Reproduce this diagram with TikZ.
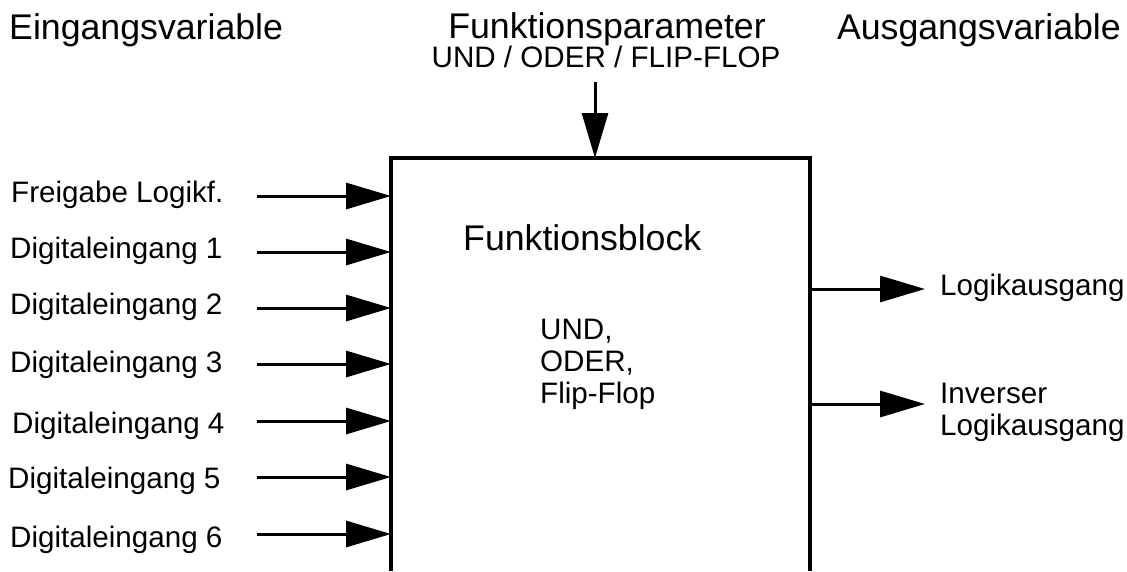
\documentclass[tikz,border=0pt]{standalone}
\usepackage{fontspec}
\setmainfont{Liberation Sans}
\usetikzlibrary{arrows.meta}

\tikzset{
  pfeil/.style={line width=3pt, -{Triangle[length=45pt,width=26pt]}},
  rahmen/.style={line width=4pt},
  gross/.style={font=\fontsize{35.7}{40}\selectfont, inner sep=0pt},
  klein/.style={font=\fontsize{29.6}{32}\selectfont, inner sep=0pt},
}

\begin{document}
\begin{tikzpicture}[x=1pt, y=-1pt]
	%%%%% START %%%%%
	\useasboundingbox[fill=white] (0,0) rectangle (1127,571);
	
	% Ueberschriften
	\node[gross, anchor=base west] (eing) at (9,39) {Eingangsvariable};
	\node[gross, anchor=base] (fpar) at (607,38) {Funktionsparameter};
	\node[klein, anchor=base] (fwert) at (606,67) {UND / ODER / FLIP-FLOP};
	\node[gross, anchor=base east] (ausg) at (1121,39) {Ausgangsvariable};
	
	% Funktionsblock, unten offen
	\node[minimum width=419pt, minimum height=413pt, inner sep=0pt, anchor=north west] (fb) at (391,158) {};
	\draw[rahmen] (fb.south west) -- (fb.north west) -- (fb.north east) -- (fb.south east);
	\node[gross, anchor=base west] (fbname) at (463,250) {Funktionsblock};
	\node[klein, anchor=base west, align=left] (fbart) at (540,403) {UND,\\ODER,\\Flip-Flop};
	
	\coordinate (ptop) at (595,82);
	\draw[pfeil] (ptop) -- (ptop |- fb.north);
	
	% Eingaenge
	\foreach \name/\ypf/\xtxt/\ytxt [count=\i] in {Freigabe Logikf./196/11/202, Digitaleingang 1/252/10/258, Digitaleingang 2/308/10/314, Digitaleingang 3/364/10/372, Digitaleingang 4/421/12/433, Digitaleingang 5/477/8/488, Digitaleingang 6/534/10/547}
	{
		\node[klein, anchor=base west] (ein\i) at (\xtxt,\ytxt) {\name};
		\coordinate (s\i) at (257,\ypf);
		\draw[pfeil] (s\i) -- (s\i -| fb.west);
	}
	
	% Ausgaenge
	\coordinate (e1) at (925,289);
	\coordinate (e2) at (925,404);
	\draw[pfeil] (e1 -| fb.east) -- (e1);
	\draw[pfeil] (e2 -| fb.east) -- (e2);
	\node[klein, anchor=base west] (aus1) at (940,295) {Logikausgang};
	\node[klein, anchor=base west, align=left] (aus2) at (940,435) {Inverser\\Logikausgang};
	
	%%%%% END %%%%%
\end{tikzpicture}
\end{document}
